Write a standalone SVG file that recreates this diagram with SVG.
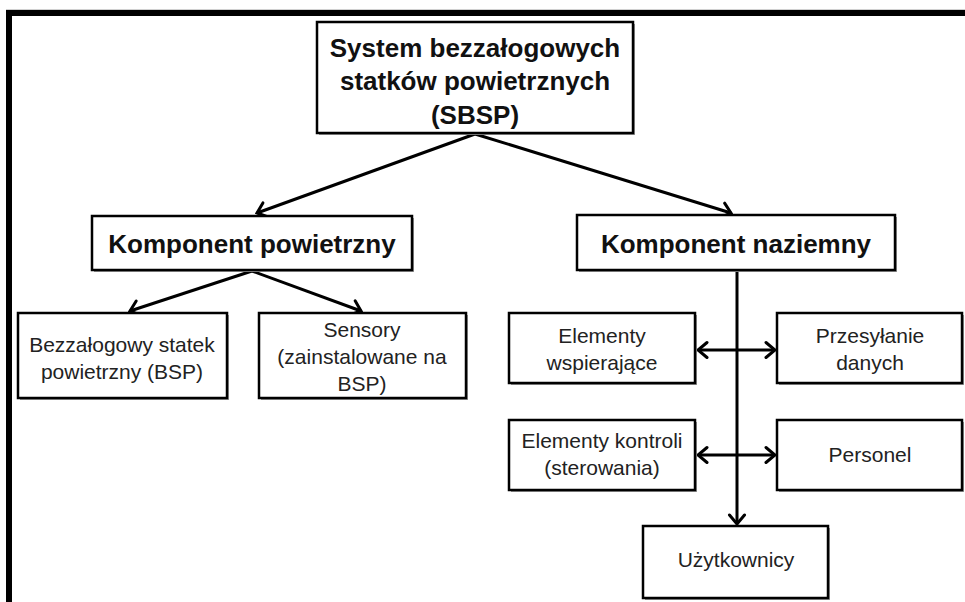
<svg xmlns="http://www.w3.org/2000/svg" width="965" height="602" viewBox="0 0 965 602">
<style>
.box{fill:#fff;stroke:#000;stroke-width:2.5}
.sh{fill:#9a9a9a}
.b{font-family:"Liberation Sans",Arial,sans-serif;font-weight:bold;font-size:26px;fill:#111;text-anchor:middle}
.t{font-family:"Liberation Sans",Arial,sans-serif;font-size:21px;fill:#222;text-anchor:middle}
.c{stroke:#000;stroke-width:3;fill:none}
</style>
<defs>
<marker id="ah" markerUnits="userSpaceOnUse" viewBox="-12 -10 14 20" refX="0" refY="0" markerWidth="14" markerHeight="20" orient="auto-start-reverse">
<path d="M-9,-7.5 L0,0 L-9,7.5" fill="none" stroke="#000" stroke-width="3" stroke-linecap="round" stroke-linejoin="miter"/>
</marker>
</defs>
<rect width="965" height="602" fill="#fff"/>
<line x1="6" y1="9.5" x2="965" y2="9.5" stroke="#d0d0d0" stroke-width="1"/>
<path d="M9,602 V13 H965" fill="none" stroke="#000" stroke-width="6"/>

<g id="connectors">
<line class="c" x1="475" y1="134" x2="257" y2="213" marker-end="url(#ah)"/>
<line class="c" x1="475" y1="134" x2="731" y2="213" marker-end="url(#ah)"/>
<line class="c" x1="252" y1="271" x2="130" y2="311" marker-end="url(#ah)"/>
<line class="c" x1="252" y1="271" x2="361" y2="311" marker-end="url(#ah)"/>
<line class="c" x1="737" y1="271" x2="737" y2="524" marker-end="url(#ah)"/>
<line class="c" x1="698" y1="350" x2="775" y2="350" marker-start="url(#ah)" marker-end="url(#ah)"/>
<line class="c" x1="698" y1="455" x2="775" y2="455" marker-start="url(#ah)" marker-end="url(#ah)"/>
</g>

<g id="sbsp">
<rect class="sh" x="319" y="24" width="316" height="111"/>
<rect class="box" x="317" y="22" width="316" height="111"/>
<text class="b" x="475" y="57">System bezzałogowych</text>
<text class="b" x="475" y="90">statków powietrznych</text>
<text class="b" x="475" y="124">(SBSP)</text>
</g>

<g id="komponent-powietrzny">
<rect class="sh" x="94" y="218" width="320" height="54"/>
<rect class="box" x="92" y="216" width="320" height="54"/>
<text class="b" x="252" y="253">Komponent powietrzny</text>
</g>

<g id="komponent-naziemny">
<rect class="sh" x="579" y="217" width="318" height="55"/>
<rect class="box" x="577" y="215" width="318" height="55"/>
<text class="b" x="736" y="253">Komponent naziemny</text>
</g>

<g id="bsp">
<rect class="sh" x="20" y="315" width="209" height="85"/>
<rect class="box" x="18" y="313" width="209" height="85"/>
<text class="t" x="122" y="352">Bezzałogowy statek</text>
<text class="t" x="122" y="379">powietrzny (BSP)</text>
</g>

<g id="sensory">
<rect class="sh" x="261" y="315" width="207" height="85"/>
<rect class="box" x="259" y="313" width="207" height="85"/>
<text class="t" x="362" y="337">Sensory</text>
<text class="t" x="362" y="364">(zainstalowane na</text>
<text class="t" x="362" y="391">BSP)</text>
</g>

<g id="elementy-wspierajace">
<rect class="sh" x="511" y="315" width="186" height="70"/>
<rect class="box" x="509" y="313" width="186" height="70"/>
<text class="t" x="602" y="343">Elementy</text>
<text class="t" x="602" y="370">wspierające</text>
</g>

<g id="przesylanie-danych">
<rect class="sh" x="779" y="315" width="185" height="70"/>
<rect class="box" x="777" y="313" width="185" height="70"/>
<text class="t" x="870" y="343">Przesyłanie</text>
<text class="t" x="870" y="370">danych</text>
</g>

<g id="elementy-kontroli">
<rect class="sh" x="511" y="422" width="186" height="70"/>
<rect class="box" x="509" y="420" width="186" height="70"/>
<text class="t" x="602" y="448">Elementy kontroli</text>
<text class="t" x="602" y="475">(sterowania)</text>
</g>

<g id="personel">
<rect class="sh" x="779" y="422" width="185" height="70"/>
<rect class="box" x="777" y="420" width="185" height="70"/>
<text class="t" x="870" y="462">Personel</text>
</g>

<g id="uzytkownicy">
<rect class="sh" x="645" y="528" width="185" height="72"/>
<rect class="box" x="643" y="526" width="185" height="72"/>
<text class="t" x="736" y="567">Użytkownicy</text>
</g>
</svg>
